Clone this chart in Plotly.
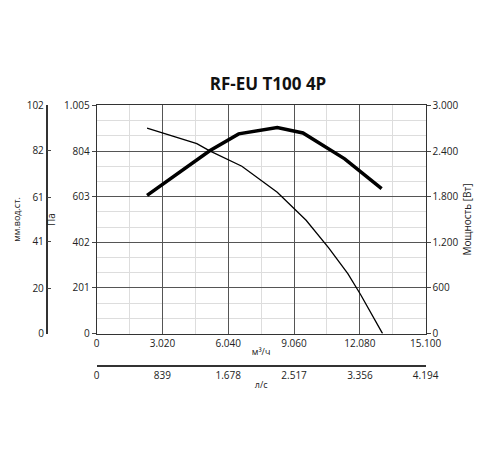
import plotly.graph_objects as go

# Kennlinie Druck (Pa) über Volumenstrom (m³/h)
flow_p = [2315, 4600, 5190, 6665, 8290, 9615, 10650, 11530, 12120, 13125]
pressure = [905, 837, 805, 737, 623, 499, 378, 264, 171, 0]

# Leistungskurve (W)
flow_w = [2315, 4600, 5190, 6520, 8290, 9470, 11385, 13080]
power = [1817, 2285, 2404, 2626, 2711, 2638, 2298, 1906]

x_ticks = [0, 3020, 6040, 9060, 12080, 15100]
x_labels = ['0', '3.020', '6.040', '9.060', '12.080', '15.100']
pa_ticks = [0, 201, 402, 603, 804, 1005]
pa_labels = ['0', '201', '402', '603', '804', '1.005']
w_ticks = [0, 600, 1200, 1800, 2400, 3000]
w_labels = ['0', '600', '1.200', '1.800', '2.400', '3.000']
mm_ticks = [0, 20, 41, 61, 82, 102]
ls_ticks = [0, 839, 1678, 2517, 3356, 4194]
ls_labels = ['0', '839', '1.678', '2.517', '3.356', '4.194']

fig = go.Figure()
fig.add_trace(go.Scatter(x=flow_p, y=pressure, mode='lines',
                         line=dict(color='black', width=1.3), showlegend=False))
fig.add_trace(go.Scatter(x=flow_w, y=power, mode='lines', yaxis='y2',
                         line=dict(color='black', width=3.5), showlegend=False))
# unsichtbare Spuren, damit die Zusatzachsen gezeichnet werden
fig.add_trace(go.Scatter(x=[None], y=[None], yaxis='y3', showlegend=False))
fig.add_trace(go.Scatter(x=[None], y=[None], xaxis='x2', showlegend=False))

f = dict(family='Open Sans, DejaVu Sans', size=10, color='#222')
dom_x = [0.178, 0.862]
dom_y = [0.271, 0.793]

fig.update_layout(
    width=500, height=450, margin=dict(l=0, r=0, t=0, b=0),
    plot_bgcolor='white', paper_bgcolor='white', font=f,
    title=dict(text='<b>RF-EU T100 4P</b>', x=0.52, y=0.845, xanchor='center',
               font=dict(size=17, color='#111')),
    xaxis=dict(domain=dom_x, range=[0, 15100], tickvals=x_ticks, ticktext=x_labels,
               showgrid=True, gridcolor='#555', gridwidth=1.3,
               minor=dict(dtick=1510, showgrid=True, gridcolor='#ddd'),
               showline=True, linecolor='#333', mirror=True, zeroline=False,
               title=dict(text='м³/ч', font=dict(size=9), standoff=0)),
    yaxis=dict(domain=dom_y, range=[0, 1005], tickvals=pa_ticks, ticktext=pa_labels,
               showgrid=True, gridcolor='#555', gridwidth=1.3,
               minor=dict(dtick=67, showgrid=True, gridcolor='#ddd'),
               showline=True, linecolor='#333', zeroline=False,
               ticks='outside', ticklen=4, title=dict(text='Па', font=dict(size=10), standoff=6)),
    yaxis2=dict(overlaying='y', side='right', range=[0, 3000], tickvals=w_ticks,
                ticktext=w_labels, showgrid=False, zeroline=False, anchor='x',
                ticks='outside', ticklen=4, showline=True, linecolor='#333',
                title=dict(text='Мощность [Вт]', font=dict(size=10), standoff=6)),
    yaxis3=dict(overlaying='y', anchor='free', position=0.074, side='left',
                range=[0, 102], tickvals=mm_ticks, showgrid=False, zeroline=False,
                showline=True, linecolor='#333', linewidth=1.5, ticks='inside', ticklen=4,
                title=dict(text='мм.вод.ст.', font=dict(size=9), standoff=4)),
    xaxis2=dict(overlaying='x', domain=dom_x, anchor='free', position=0.196, range=[0, 4194],
                tickvals=ls_ticks, ticktext=ls_labels, showgrid=False, zeroline=False,
                showline=True, linecolor='#333', linewidth=1.5, side='bottom',
                title=dict(text='л/с', font=dict(size=9), standoff=0)),
)

fig.write_html("out.html")
